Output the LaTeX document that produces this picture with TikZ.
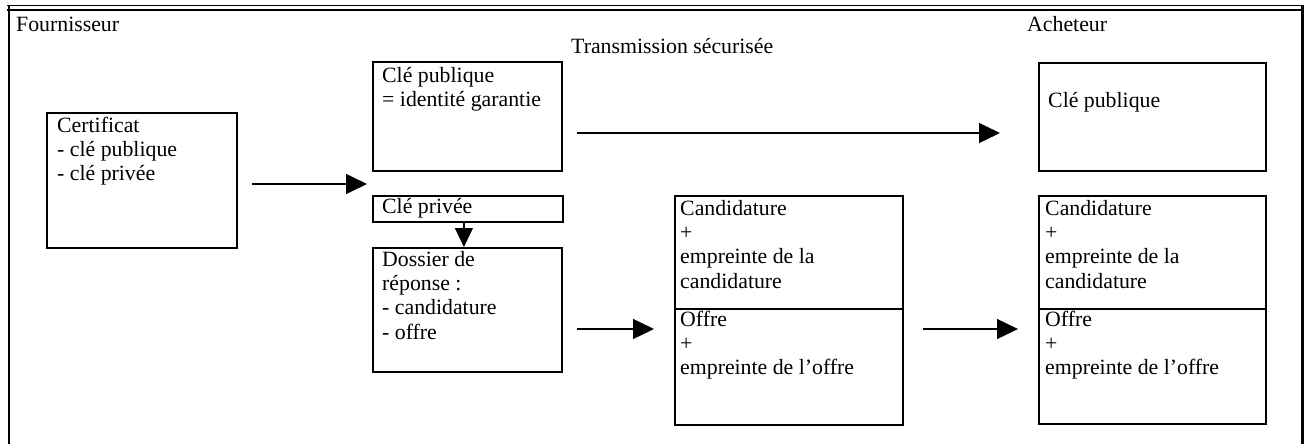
\documentclass[tikz,border=0pt]{standalone}
\usepackage{fontspec}
\setmainfont{Liberation Serif}
\usetikzlibrary{arrows.meta}
\newcommand\firststrut{\rule{0pt}{17pt}}
\tikzset{
  box/.style={draw, line width=1.8pt, rectangle, inner sep=0pt, anchor=north west},
  txt/.style={anchor=north west, inner sep=0pt, align=left, font=\fontsize{21.8}{24.3}\selectfont},
  arr/.style={line width=1.3pt, -{Triangle[length=21pt,width=20pt]}},
  arrdown/.style={line width=1.3pt, -{Triangle[length=19pt,width=18pt]}},
  frame/.style={line width=2.6pt},
}
\begin{document}
\begin{tikzpicture}[x=1pt,y=-1pt]
\useasboundingbox (0,0) rectangle (1308,444);
% outer frame
\draw[line width=1pt] (7,5.8) -- (1304,5.8);
\draw[frame] (7,10) -- (1302.5,10);
\draw[frame] (8.8,5.3) -- (8.8,444);
\draw[frame] (1302.5,5.3) -- (1302.5,444);
% headings
\node[txt] (four) at (16,31.5-17) {\firststrut Fournisseur};
\node[txt] (ach) at (1027,31-17) {\firststrut Acheteur};
\node[txt] (trans) at (571,53-17) {\firststrut Transmission sécurisée};
% boxes
\node[box, minimum width=190pt, minimum height=135pt] (cert) at (46,112) {};
\node[box, minimum width=189pt, minimum height=109pt] (pubF) at (372,61) {};
\node[box, minimum width=190pt, minimum height=26pt] (privF) at (372,195) {};
\node[box, minimum width=189pt, minimum height=124pt] (doss) at (372,247) {};
\node[box, minimum width=228pt, minimum height=113pt] (midtop) at (674,195) {};
\node[box, minimum width=228pt, minimum height=116pt] (midbot) at (674,308) {};
\node[box, minimum width=227pt, minimum height=108pt] (pubA) at (1038,62) {};
\node[box, minimum width=227pt, minimum height=113pt] (rtop) at (1038,195) {};
\node[box, minimum width=227pt, minimum height=115pt] (rbot) at (1038,308) {};
% texts
\node[txt] (certT) at (57,132-17) {\firststrut Certificat\\- clé publique\\- clé privée};
\node[txt] (pubFT) at (382,82-17) {\firststrut Clé publique\\= identité garantie};
\node[txt] (privFT) at (382,213-17) {\firststrut Clé privée};
\node[txt] (dossT) at (382,266-17) {\firststrut Dossier de\\réponse :\\- candidature\\- offre};
\node[txt] (midtopT) at (680,215-17) {\firststrut Candidature\\+\\empreinte de la\\candidature};
\node[txt] (midbotT) at (680,326-17) {\firststrut Offre\\+\\empreinte de l’offre};
\node[txt] (pubAT) at (1048,107-17) {\firststrut Clé publique};
\node[txt] (rtopT) at (1045,215-17) {\firststrut Candidature\\+\\empreinte de la\\candidature};
\node[txt] (rbotT) at (1045,326-17) {\firststrut Offre\\+\\empreinte de l’offre};
% connectors
\coordinate (a1s) at (252,184);
\coordinate (a1e) at (367,184);
\draw[arr] (a1s) -- (a1e);
\coordinate (a2s) at (577,133);
\coordinate (a2e) at (1000,133);
\draw[arr] (a2s) -- (a2e);
\draw[arrdown] ([xshift=-4pt]privF.south) -- ([xshift=-4pt]privF.south |- doss.north);
\coordinate (a4s) at (577,329);
\coordinate (a4e) at (654,329);
\draw[arr] (a4s) -- (a4e);
\coordinate (a5s) at (923,329);
\coordinate (a5e) at (1018,329);
\draw[arr] (a5s) -- (a5e);
\end{tikzpicture}
\end{document}
